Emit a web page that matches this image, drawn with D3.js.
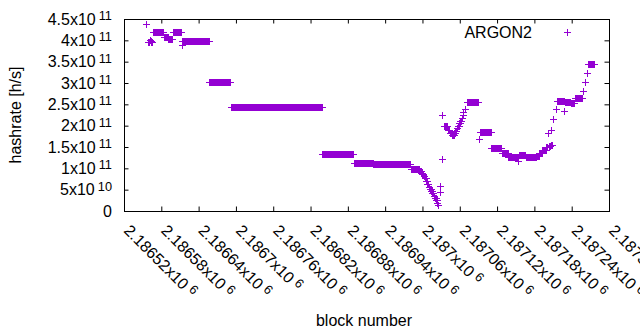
<!DOCTYPE html>
<html>
<head>
<meta charset="utf-8">
<script src="https://cdn.jsdelivr.net/npm/d3@7"></script>
<style>
  body { margin: 0; background: #fff; }
  text { font-family: "Liberation Sans", Arial, sans-serif; font-size: 16px; fill: #000; }
</style>
</head>
<body>
<div id="chart"></div>
<script>
// hashrate per block
// runs of blocks with the same estimate: [first block, last block, hashrate]
const plateaus = [
  [2186567, 2186582, 4.19e11],
  [2186584, 2186590, 4.08e11],
  [2186591, 2186597, 4.03e11],
  [2186598, 2186611, 4.19e11],
  [2186614, 2186656, 3.975e11],
  [2186657, 2186691, 3.02e11],
  [2186692, 2186838, 2.43e11],
  [2186839, 2186889, 1.33e11],
  [2186890, 2186920, 1.12e11],
  [2186921, 2186980, 1.095e11],
  [2186981, 2186995, 9.8e10],
  [2186996, 2186997, 9.4e10],
  [2186998, 2186999, 9.0e10],
  [2187000, 2187001, 8.6e10],
  [2187002, 2187003, 8.1e10],
  [2187004, 2187005, 7.7e10],
  [2187006, 2187007, 7.1e10],
  [2187008, 2187009, 6.3e10],
  [2187010, 2187011, 5.7e10],
  [2187012, 2187013, 5.2e10],
  [2187014, 2187015, 4.7e10],
  [2187016, 2187017, 4.2e10],
  [2187018, 2187019, 3.6e10],
  [2187020, 2187021, 3.1e10],
  [2187022, 2187023, 2.5e10],
  [2187035, 2187040, 2.0e11],
  [2187041, 2187043, 1.9e11],
  [2187044, 2187046, 1.83e11],
  [2187047, 2187050, 1.77e11],
  [2187051, 2187052, 1.82e11],
  [2187053, 2187054, 1.88e11],
  [2187055, 2187056, 1.94e11],
  [2187057, 2187058, 2.0e11],
  [2187059, 2187060, 2.06e11],
  [2187061, 2187062, 2.12e11],
  [2187063, 2187064, 2.18e11],
  [2187071, 2187090, 2.565e11],
  [2187093, 2187110, 1.84e11],
  [2187111, 2187127, 1.48e11],
  [2187128, 2187137, 1.35e11],
  [2187138, 2187153, 1.26e11],
  [2187155, 2187165, 1.31e11],
  [2187166, 2187183, 1.26e11],
  [2187184, 2187187, 1.3e11],
  [2187188, 2187192, 1.36e11],
  [2187193, 2187198, 1.43e11],
  [2187199, 2187201, 1.49e11],
  [2187203, 2187205, 1.52e11],
  [2187207, 2187208, 1.55e11],
  [2187216, 2187227, 2.575e11],
  [2187229, 2187238, 2.56e11],
  [2187239, 2187244, 2.52e11],
  [2187245, 2187257, 2.66e11],
  [2187266, 2187276, 3.44e11]
]

// lone blocks: [block, hashrate]
const singles = [
  [2186556, 4.376e11],
  [2186559, 3.97e11],
  [2186560, 3.95e11],
  [2186561, 3.96e11],
  [2186562, 4.0e11],
  [2186563, 3.98e11],
  [2186564, 3.95e11],
  [2186565, 3.96e11],
  [2186613, 3.9e11],
  [2187024, 1.8e10],
  [2187025, 1.4e10],
  [2187028, 4.5e10],
  [2187029, 5.9e10],
  [2187031, 1.23e11],
  [2187032, 2.25e11],
  [2187065, 2.25e11],
  [2187066, 2.31e11],
  [2187068, 2.38e11],
  [2187091, 1.68e11],
  [2187154, 1.17e11],
  [2187202, 1.82e11],
  [2187206, 1.91e11],
  [2187210, 2.15e11],
  [2187214, 2.38e11],
  [2187228, 2.34e11],
  [2187258, 2.82e11],
  [2187261, 3.02e11],
  [2187265, 3.23e11]
]

const xTicks = [2186520, 2186580, 2186640, 2186700, 2186760, 2186820, 2186880,
  2186940, 2187000, 2187060, 2187120, 2187180, 2187240, 2187300]
const yTicks = [0, 5e10, 1e11, 1.5e11, 2e11, 2.5e11, 3e11, 3.5e11, 4e11, 4.5e11]
const seriesName = "ARGON2"

const W = 640, H = 330
const pLeft = 124, pRight = 609, pTop = 19, pBottom = 211
const color = "#9400d3"

const x = d3.scaleLinear().domain([xTicks[0], xTicks[xTicks.length - 1]]).range([pLeft, pRight])
const y = d3.scaleLinear().domain([0, 4.5e11]).range([pBottom, pTop])

// "4.5x10" + exponent, gnuplot style
const sci = v => {
  if (v === 0) return ["0", null]
  const e = Math.floor(Math.log10(v))
  const m = +(v / Math.pow(10, e)).toPrecision(6)
  return [m + "x10", e]
}

const svg = d3.select("#chart").append("svg")
  .attr("width", W).attr("height", H)

// expand runs into one point per block
const points = []
plateaus.forEach(([b0, b1, v]) => {
  for (let b = b0; b <= b1; b++) points.push([b, v])
})
singles.forEach(p => points.push(p))

const cross = "M-3.5,0H3.5M0,-3.5V3.5"
svg.append("g").selectAll("path").data(points).join("path")
  .attr("d", cross)
  .attr("transform", d => `translate(${Math.round(x(d[0])) + 0.5},${Math.round(y(d[1])) + 0.5})`)
  .attr("fill", "none").attr("stroke", color).attr("stroke-width", 1)

// inward ticks on all four sides
const tk = 4.5
svg.append("g").attr("transform", `translate(${pLeft},0)`)
  .call(d3.axisLeft(y).tickValues(yTicks).tickSize(-tk).tickFormat(""))
  .call(g => g.select(".domain").remove())
svg.append("g").attr("transform", `translate(${pRight},0)`)
  .call(d3.axisRight(y).tickValues(yTicks).tickSize(-tk).tickFormat(""))
  .call(g => g.select(".domain").remove())
svg.append("g").attr("transform", `translate(0,${pBottom})`)
  .call(d3.axisBottom(x).tickValues(xTicks).tickSize(-tk).tickFormat(""))
  .call(g => g.select(".domain").remove())
svg.append("g").attr("transform", `translate(0,${pTop})`)
  .call(d3.axisTop(x).tickValues(xTicks).tickSize(-tk).tickFormat(""))
  .call(g => g.select(".domain").remove())

svg.append("rect")
  .attr("x", pLeft + 0.5).attr("y", pTop + 0.5)
  .attr("width", pRight - pLeft).attr("height", pBottom - pTop)
  .attr("fill", "none").attr("stroke", "#000").attr("stroke-width", 1)

// y tick labels
yTicks.forEach(v => {
  const [m, e] = sci(v)
  const t = svg.append("text")
    .attr("x", 112).attr("y", y(v) + 5.5)
    .attr("text-anchor", "end")
    .text(m)
  if (e !== null) t.append("tspan").attr("dx", 3).attr("dy", -4.5)
    .style("font-size", "12.8px").text(e)
})

// x tick labels, rotated
xTicks.forEach(v => {
  const [m, e] = sci(v)
  const t = svg.append("text")
    .attr("transform", `translate(${x(v) - 1},231.5) rotate(45)`)
    .text(m)
  t.append("tspan").attr("dx", 4).attr("dy", -4.5)
    .style("font-size", "12.8px").text(e)
})

svg.append("text")
  .attr("transform", "translate(20.5,115) rotate(-90)")
  .attr("text-anchor", "middle")
  .text("hashrate [h/s]")

svg.append("text")
  .attr("x", 364).attr("y", 325.5)
  .attr("text-anchor", "middle")
  .text("block number")

// key
svg.append("text")
  .attr("x", 532).attr("y", 37.5)
  .attr("text-anchor", "end")
  .text(seriesName)
svg.append("path")
  .attr("d", cross)
  .attr("transform", "translate(567.5,32.5)")
  .attr("fill", "none").attr("stroke", color).attr("stroke-width", 1)
</script>
</body>
</html>
